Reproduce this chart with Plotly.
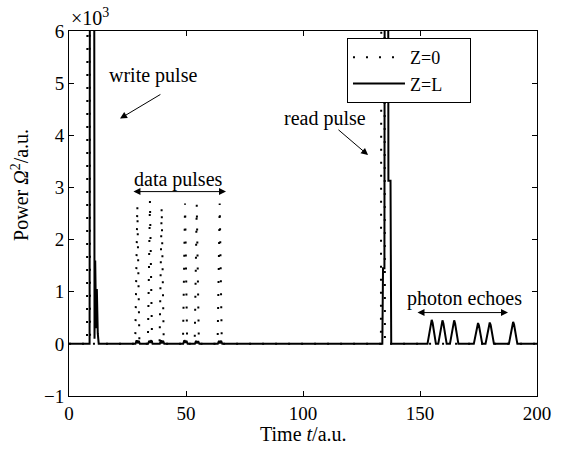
import plotly.graph_objects as go

# ---------------- data ----------------
# Power is in units of 10^3 a.u.; values above 6 are clipped by the axes.
# Z = 0 (input, dotted)
t_z0 = [0, 7.7, 8.0, 8.7, 9.0,
        28.3, 29.2, 30.1,
        33.7, 34.6, 35.5,
        38.7, 39.6, 40.5,
        48.7, 49.6, 50.5,
        53.7, 54.6, 55.5,
        63.5, 64.4, 65.3,
        133.3, 133.6, 134.7, 135.0, 200]
p_z0 = [0, 0, 12, 12, 0,
        0, 2.65, 0,
        0, 2.75, 0,
        0, 2.62, 0,
        0, 2.69, 0,
        0, 2.67, 0,
        0, 2.69, 0,
        0, 12, 12, 0, 0]

# Z = L (output, solid)
t_zl = [0, 8.8, 9.0, 10.7, 10.9, 11.2, 11.6, 11.9, 12.3, 12.7,
        28.4, 28.9, 29.3, 29.8, 30.3,
        33.8, 34.3, 34.7, 35.2, 35.7,
        38.8, 39.3, 39.7, 40.2, 40.7,
        48.8, 49.3, 49.7, 50.2, 50.7,
        53.8, 54.3, 54.7, 55.2, 55.7,
        63.6, 64.1, 64.5, 65.0, 65.5,
        133.9, 134.2, 134.8, 135.0, 136.3, 136.5, 137.4, 137.7,
        153.2, 154.0, 154.6, 155.0, 155.4, 156.0, 156.8,
        157.8, 158.6, 159.2, 159.6, 160.0, 160.6, 161.4,
        162.8, 163.6, 164.2, 164.6, 165.0, 165.6, 166.4,
        173.0, 173.8, 174.4, 174.8, 175.2, 175.8, 176.6,
        178.0, 178.8, 179.4, 179.8, 180.2, 180.8, 181.6,
        188.0, 188.8, 189.4, 189.8, 190.2, 190.8, 191.6,
        200]
p_zl = [0, 0, 12, 12, 0.1, 1.6, 0.3, 1.05, 0.2, 0,
        0, 0.07, 0.01, 0.06, 0,
        0, 0.06, 0.02, 0.07, 0,
        0, 0.07, 0.01, 0.06, 0,
        0, 0.07, 0.02, 0.06, 0,
        0, 0.06, 0.01, 0.05, 0,
        0, 0.06, 0.01, 0.06, 0,
        0, 1.45, 1.45, 12, 12, 3.13, 3.13, 0,
        0, 0.22, 0.40, 0.46, 0.40, 0.22, 0,
        0, 0.21, 0.39, 0.45, 0.39, 0.21, 0,
        0, 0.21, 0.39, 0.45, 0.39, 0.21, 0,
        0, 0.18, 0.35, 0.40, 0.35, 0.18, 0,
        0, 0.18, 0.36, 0.41, 0.36, 0.18, 0,
        0, 0.19, 0.37, 0.42, 0.37, 0.19, 0,
        0]

x_ticks = [0, 50, 100, 150, 200]
y_ticks = [-1, 0, 1, 2, 3, 4, 5, 6]

FONT = "Liberation Serif"
NBSP = "\u00a0"

fig = go.Figure()
fig.add_trace(go.Scatter(x=t_z0, y=p_z0, mode="lines", name="Z=0" + NBSP * 5,
                         line=dict(color="black", width=2, dash="2px,11px")))
fig.add_trace(go.Scatter(x=t_zl, y=p_zl, mode="lines", name="Z=L" + NBSP * 5,
                         line=dict(color="black", width=2)))

axis_common = dict(showgrid=False, zeroline=False, showline=True, linecolor="black",
                   linewidth=1, mirror="ticks", ticks="inside", ticklen=5,
                   tickcolor="black", tickfont=dict(family=FONT, size=19, color="black"))

fig.update_xaxes(range=[0, 200], tickvals=x_ticks, **axis_common)
fig.update_yaxes(range=[-1, 6], tickvals=y_ticks, **axis_common)

ann_font = dict(family=FONT, size=20, color="black")
arrow_style = dict(showarrow=True, arrowhead=2, arrowsize=1.4, arrowwidth=1,
                   arrowcolor="black", xref="x", yref="y", axref="x", ayref="y")
annotations = [
    # axis titles
    dict(text="Time <i>t</i>/a.u.", xref="paper", yref="paper", x=0.5, y=-0.105,
         showarrow=False, yanchor="middle", font=ann_font),
    dict(text="Power <i>Ω</i><sup>2</sup>/a.u.", xref="paper", yref="paper",
         x=-0.105, y=0.578, xanchor="center", yanchor="middle",
         showarrow=False, textangle=-90, font=ann_font),
    dict(text="×10<sup>3</sup>", xref="paper", yref="paper", x=0.0, y=1.0,
         xanchor="left", yanchor="bottom", showarrow=False, font=ann_font),
    # labels
    dict(text="write pulse", x=35.9, y=5.15, xref="x", yref="y", showarrow=False, font=ann_font),
    dict(text="data pulses", x=46.6, y=3.15, xref="x", yref="y", showarrow=False, font=ann_font),
    dict(text="read pulse", x=109.4, y=4.33, xref="x", yref="y", showarrow=False, font=ann_font),
    dict(text="photon echoes", x=169.2, y=0.87, xref="x", yref="y", showarrow=False, font=ann_font),
    # arrows
    dict(text="", x=21.8, y=4.32, ax=39.7, ay=4.8, **arrow_style),
    dict(text="", x=127.8, y=3.62, ax=114.5, ay=4.13, **arrow_style),
    dict(text="", x=67.1, y=2.92, ax=26.9, ay=2.92, arrowside="end+start",
         startarrowhead=2, startarrowsize=1.4, **arrow_style),
    dict(text="", x=187.6, y=0.6, ax=148.3, ay=0.6, arrowside="end+start",
         startarrowhead=2, startarrowsize=1.4, **arrow_style),
]

fig.update_layout(
    width=567, height=452,
    margin=dict(l=69, r=30, t=31, b=56, autoexpand=False),
    paper_bgcolor="white", plot_bgcolor="white",
    font=dict(family=FONT, size=19, color="black"),
    showlegend=True,
    legend=dict(x=0.594, y=0.981, xanchor="left", yanchor="top",
                bgcolor="white", bordercolor="black", borderwidth=1,
                font=dict(family=FONT, size=18, color="black"),
                itemwidth=52, tracegroupgap=0),
    annotations=annotations,
)

fig.write_html("out.html", config={"displayModeBar": False},
               post_script="document.body.style.margin='0';document.body.style.overflow='hidden';")
